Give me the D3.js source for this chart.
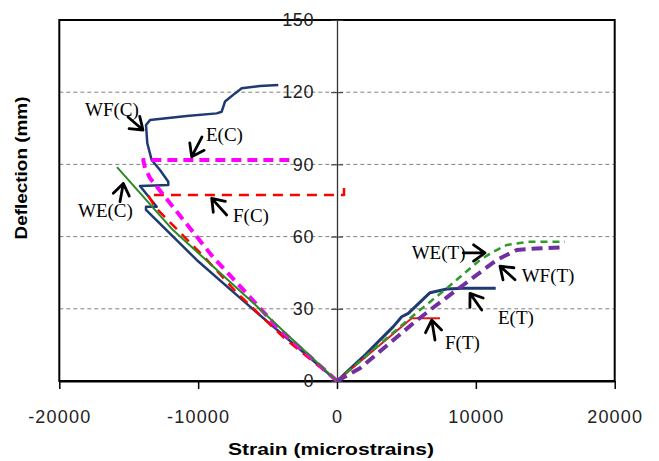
<!DOCTYPE html>
<html lang="en">
<head>
  <meta charset="UTF-8">
  <script src="https://d3js.org/d3.v7.min.js"></script>
  <title>Deflection vs strain</title>
  <style>
    body { margin: 0; background: #fff; }
    svg { display: block; }
  </style>
</head>
<body>
  <script>
    // [strain (microstrains), deflection (mm)]
    const wfC = [[0,0],[-6266,30.9],[-10104,50.3],[-13756,71.1],[-13756,72.4],[-12985,72.4],[-14188,81.0],
      [-12150,81.4],[-12150,82.8],[-12748,87.7],[-13346,91.8],[-13662,98.8],[-13756,106.4],[-13468,108.4],
      [-10825,110.1],[-8664,111.2],[-8304,111.9],[-8066,116.1],[-7346,119.5],[-6864,121.6],[-5546,122.6],[-4228,123.0]]
    const fC = [[0,0],[-3889,18.3],[-7202,36.6],[-9363,50.3],[-13108,72.3],[-13612,77.3],[36,77.3],[504,77.3],[504,80.2]]
    const eC = [[0,0],[-4321,22.4],[-6266,34.9],[-8930,51.5],[-13468,84.3],[-13828,88.5],[-13951,91.8],[-3169,91.8]]
    const weC = [[0,0],[-6266,33.7],[-11811,62.7],[-15844,88.9]]

    const eT = [[0,0],[1894,10.1],[4055,22.6],[4660,26.7],[5135,28.1],[6698,36.7],[7901,38.2],[9096,38.5],[11430,38.5]]
    const fT = [[0,0],[5380,26.1],[7418,26.1]]
    const weT = [[0,0],[5257,26.1],[7901,38.5],[10299,50.3],[11257,53.7],[12222,56.5],[13900,57.9],[16421,57.9]]
    const wfT = [[0,0],[1656,5.3],[5495,24.0],[6698,29.5],[9096,39.9],[11502,50.3],[12942,54.4],[14383,55.1],[16421,55.6]]

    const xTicks = [-20000, -10000, 0, 10000, 20000]
    const yTicks = [0, 30, 60, 90, 120, 150]
    const gridTicks = [30, 60, 90, 120]

    // annotations: text start, arrow tail, arrow tip (data units)
    const labels = ["WF(C)", "E(C)", "WE(C)", "F(C)", "WE(T)", "WF(T)", "E(T)", "F(T)"]
    const labelAt = [[-18149,110.1],[-9435,99.7],[-18653,68.1],[-7490,66.1],[5380,50.7],[13302,41.1],[11595,23.7],[7778,13.3]]
    const arrowFrom = [[-15052,109.7],[-9723,101.4],[-15628,74.5],[-7944,69.0],[9096,53.2],[12820,42.1],[10421,29.5],[7058,17.0]]
    const arrowTo = [[-13972,104.3],[-10465,93.2],[-15391,82.1],[-9024,75.9],[10659,53.2],[11739,47.7],[9579,36.4],[6820,25.3]]

    const dimensions = {
      width: 659,
      height: 461,
      margin: { top: 20, right: 44.3, bottom: 80, left: 59.3 }
    }
    dimensions.boundedWidth = dimensions.width - dimensions.margin.left - dimensions.margin.right
    dimensions.boundedHeight = dimensions.height - dimensions.margin.top - dimensions.margin.bottom

    const svg = d3.select("body").append("svg")
        .attr("width", dimensions.width)
        .attr("height", dimensions.height)

    const bounds = svg.append("g")
        .attr("transform", `translate(${dimensions.margin.left},${dimensions.margin.top})`)

    const xScale = d3.scaleLinear().domain([-20000, 20000]).range([0, dimensions.boundedWidth])
    const yScale = d3.scaleLinear().domain([0, 150]).range([dimensions.boundedHeight, 0])

    // grid
    bounds.append("g").selectAll("line")
        .data(gridTicks)
        .join("line")
        .attr("x1", 0).attr("x2", dimensions.boundedWidth)
        .attr("y1", d => yScale(d)).attr("y2", d => yScale(d))
        .attr("stroke", "#808080")
        .attr("stroke-width", 1)
        .attr("stroke-dasharray", "4,3")

    // frame
    bounds.append("rect")
        .attr("width", dimensions.boundedWidth)
        .attr("height", dimensions.boundedHeight)
        .attr("fill", "none")
        .attr("stroke", "#000")
        .attr("stroke-width", 2)

    // x axis
    const xAxis = bounds.append("g")
        .attr("transform", `translate(0,${dimensions.boundedHeight})`)
        .call(d3.axisBottom(xScale).tickValues(xTicks).tickSize(8).tickSizeOuter(0).tickFormat(d => String(d)))
    xAxis.select(".domain").attr("stroke", "#000").attr("stroke-width", 2)
    xAxis.selectAll(".tick line").attr("stroke", "#000").attr("stroke-width", 1.5)
    xAxis.selectAll(".tick text")
        .attr("y", 29)
        .attr("fill", "#222")
        .style("font-family", "'Liberation Sans', Arial, sans-serif")
        .style("font-size", "18px")
        .style("letter-spacing", "1.2px")

    // y axis at strain = 0
    const yAxis = bounds.append("g")
        .attr("transform", `translate(${xScale(0)},0)`)
        .call(d3.axisLeft(yScale).tickValues(yTicks).tickSize(6).tickSizeOuter(0))
    yAxis.select(".domain").attr("stroke", "#333").attr("stroke-width", 1.3)
    yAxis.selectAll(".tick line").attr("x1", -6).attr("x2", 6).attr("stroke", "#333")
    yAxis.selectAll(".tick text")
        .attr("x", -23)
        .attr("fill", "#222")
        .style("font-family", "'Liberation Sans', Arial, sans-serif")
        .style("font-size", "18px")
        .style("letter-spacing", "0.6px")

    // series
    const series = [
      { data: wfC, color: "#1f3a72", width: 2.5, dash: null },
      { data: fC, color: "#ff0000", width: 2.5, dash: "10,7" },
      { data: eC, color: "#ff00ff", width: 4, dash: "10,6" },
      { data: weC, color: "#2a8a22", width: 2, dash: null },
      { data: eT, color: "#1f3a72", width: 3, dash: null },
      { data: fT, color: "#e31a1c", width: 2, dash: null },
      { data: weT, color: "#2e9a2a", width: 2.5, dash: "7,5" },
      { data: wfT, color: "#7030a0", width: 4, dash: "11,6" }
    ]

    const line = d3.line().x(d => xScale(d[0])).y(d => yScale(d[1]))

    bounds.append("g").selectAll("path")
        .data(series)
        .join("path")
        .attr("d", d => line(d.data))
        .attr("fill", "none")
        .attr("stroke", d => d.color)
        .attr("stroke-width", d => d.width)
        .attr("stroke-dasharray", d => d.dash)
        .attr("stroke-linejoin", "round")

    // annotations
    const notes = labels.map((t, i) => ({ text: t, at: labelAt[i], from: arrowFrom[i], to: arrowTo[i] }))
    const arrowPath = d => {
      const x0 = xScale(d.from[0]), y0 = yScale(d.from[1])
      const x1 = xScale(d.to[0]), y1 = yScale(d.to[1])
      const a = Math.atan2(y1 - y0, x1 - x0), L = 14, th = 0.62
      const w1 = [x1 - L * Math.cos(a - th), y1 - L * Math.sin(a - th)]
      const w2 = [x1 - L * Math.cos(a + th), y1 - L * Math.sin(a + th)]
      return `M${x0},${y0}L${x1},${y1}M${w1[0]},${w1[1]}L${x1},${y1}L${w2[0]},${w2[1]}`
    }
    const noteG = bounds.append("g")
    noteG.selectAll("path")
        .data(notes)
        .join("path")
        .attr("d", arrowPath)
        .attr("fill", "none")
        .attr("stroke", "#000")
        .attr("stroke-width", 2.8)
        .attr("stroke-linecap", "round")
        .attr("stroke-linejoin", "round")
    noteG.selectAll("text")
        .data(notes)
        .join("text")
        .attr("x", d => xScale(d.at[0]))
        .attr("y", d => yScale(d.at[1]))
        .style("font-family", "'Liberation Serif', 'Times New Roman', serif")
        .style("font-size", "19px")
        .text(d => d.text)

    // axis titles
    svg.append("text")
        .attr("x", 331)
        .attr("y", 455)
        .attr("text-anchor", "middle")
        .attr("textLength", 206)
        .attr("lengthAdjust", "spacingAndGlyphs")
        .style("font-family", "'Liberation Sans', Arial, sans-serif")
        .style("font-size", "17px")
        .style("font-weight", "bold")
        .text("Strain (microstrains)")

    svg.append("text")
        .attr("transform", "translate(27,168) rotate(-90)")
        .attr("text-anchor", "middle")
        .attr("textLength", 143)
        .attr("lengthAdjust", "spacingAndGlyphs")
        .style("font-family", "'Liberation Sans', Arial, sans-serif")
        .style("font-size", "17px")
        .style("font-weight", "bold")
        .text("Deflection (mm)")
  </script>
</body>
</html>
